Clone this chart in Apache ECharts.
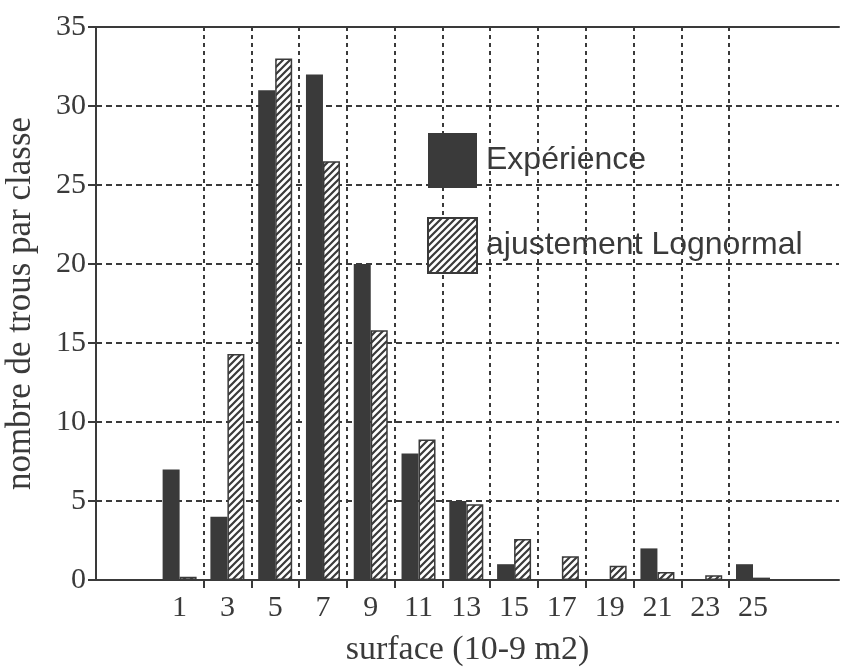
<!DOCTYPE html>
<html>
<head>
<meta charset="utf-8">
<script src="https://cdn.jsdelivr.net/npm/echarts@6/dist/echarts.min.js"></script>
<style>
  html, body { margin: 0; padding: 0; background: #fff; }
  #chart { width: 844px; height: 667px; }
</style>
</head>
<body>
<div id="chart"></div>
<script>
// Surface classes (class centres) and hole counts per class
const surfaceClasses = [1, 3, 5, 7, 9, 11, 13, 15, 17, 19, 21, 23, 25];
const experience     = [7, 4, 31, 32, 20, 8, 5, 1, 0, 0, 2, 0, 1];
const lognormalFit   = [0.2, 14.3, 33, 26.5, 15.8, 8.9, 4.8, 2.6, 1.5, 0.9, 0.5, 0.3, 0.15];
// Class boundaries carry the ticks and the vertical grid lines
const classBoundaries = [2, 4, 6, 8, 10, 12, 14, 16, 18, 20, 22, 24];

const INK = '#3a3a3a';
const serif = 'Liberation Serif, Times New Roman, serif';
const sans = 'Liberation Sans, Arial, sans-serif';
const X_MIN = -2.5, X_MAX = 28.6;

// Diagonal "/" hatching used for the lognormal fit
function hatchPattern() {
  const s = 7;
  const c = document.createElement('canvas');
  c.width = s; c.height = s;
  const g = c.getContext('2d');
  g.fillStyle = '#fff';
  g.fillRect(0, 0, s, s);
  g.strokeStyle = INK;
  g.lineWidth = 2.2;
  g.beginPath();
  g.moveTo(0, s); g.lineTo(s, 0);
  g.moveTo(-1, 1); g.lineTo(1, -1);
  g.moveTo(s - 1, s + 1); g.lineTo(s + 1, s - 1);
  g.stroke();
  return { image: c, repeat: 'repeat' };
}

const chart = echarts.init(document.getElementById('chart'), null, { renderer: 'canvas' });

chart.setOption({
  animation: false,
  backgroundColor: '#fff',
  grid: { left: 96, right: 5, top: 27, bottom: 87, containLabel: false, outerBoundsMode: 'none' },
  legend: {
    orient: 'vertical',
    left: 427,
    top: 133,
    padding: 0,
    itemWidth: 49,
    itemHeight: 55,
    itemGap: 29,
    icon: 'rect',
    selectedMode: false,
    textStyle: { fontFamily: sans, fontSize: 32, color: INK, padding: [0, 0, 0, 4] },
    data: ['Expérience', 'ajustement Lognormal']
  },
  xAxis: [
    {
      type: 'value',
      position: 'bottom',
      min: X_MIN,
      max: X_MAX,
      axisLine: { show: true, onZero: false, lineStyle: { color: INK, width: 2 } },
      axisTick: { show: true, customValues: classBoundaries, length: 8, lineStyle: { color: INK, width: 2 } },
      axisLabel: { customValues: surfaceClasses, fontFamily: serif, fontSize: 30, color: INK, margin: 13 },
      splitLine: { show: true, lineStyle: { type: [4, 4], color: INK, width: 2 } },
      name: 'surface (10-9 m2)',
      nameLocation: 'middle',
      nameGap: 53,
      nameTextStyle: { fontFamily: serif, fontSize: 34, color: INK }
    },
    {
      // top frame line
      type: 'value',
      position: 'top',
      min: X_MIN,
      max: X_MAX,
      axisLine: { show: true, onZero: false, lineStyle: { color: INK, width: 2 } },
      axisTick: { show: false },
      axisLabel: { show: false },
      splitLine: { show: false }
    }
  ],
  yAxis: {
    type: 'value',
    min: 0,
    max: 35,
    interval: 5,
    axisLine: { show: true, onZero: false, lineStyle: { color: INK, width: 2 } },
    axisTick: { show: true, length: 8, lineStyle: { color: INK, width: 2 } },
    axisLabel: { fontFamily: serif, fontSize: 30, color: INK, margin: 10 },
    splitLine: { show: true, lineStyle: { type: [6, 4], color: INK, width: 2 } },
    name: 'nombre de trous par classe',
    nameLocation: 'middle',
    nameGap: 58,
    nameTextStyle: { fontFamily: serif, fontSize: 35, color: INK }
  },
  series: [
    {
      name: 'Expérience',
      type: 'bar',
      xAxisIndex: 0,
      barWidth: 17,
      barGap: '0%',
      itemStyle: { color: INK },
      data: surfaceClasses.map((x, i) => [x, experience[i]])
    },
    {
      name: 'ajustement Lognormal',
      type: 'bar',
      xAxisIndex: 0,
      barWidth: 17,
      barGap: '0%',
      itemStyle: { color: hatchPattern(), borderColor: INK, borderWidth: 1.5 },
      data: surfaceClasses.map((x, i) => [x, lognormalFit[i]])
    }
  ]
});
</script>
</body>
</html>
